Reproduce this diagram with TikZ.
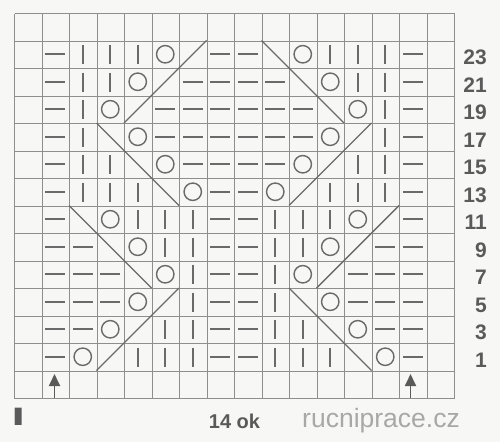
\documentclass[tikz,border=0pt]{standalone}
\usepackage{fontspec}
\setmainfont{Liberation Sans}
\usetikzlibrary{arrows.meta}
\definecolor{bg}{HTML}{F7F7F5}
\definecolor{gridc}{HTML}{8E8E8E}
\definecolor{sym}{HTML}{6A6A6A}
\definecolor{labc}{HTML}{5A5A5A}
\definecolor{webc}{HTML}{A8A8A8}
\begin{document}
\begin{tikzpicture}[x=1pt,y=-1pt,
  gridline/.style={draw=gridc,line width=1pt},
  symb/.style={draw=sym,line width=2pt},
  circ/.style={draw=sym,line width=1.4pt},
  diag/.style={draw=sym,line width=1.4pt},
  uparrow/.style={draw=labc,line width=1.8pt,-{Triangle[width=11pt,length=12pt]}},
  rowlab/.style={font=\fontsize{21}{21}\selectfont\bfseries,text=labc,anchor=base east,inner sep=0pt},
  caption/.style={font=\fontsize{20}{20}\selectfont\bfseries,text=labc,anchor=base,inner sep=0pt},
  web/.style={font=\fontsize{26.5}{26.5}\selectfont,text=webc,anchor=base,inner sep=0pt}]
\useasboundingbox (0,0) rectangle (500,442);
\fill[bg] (0,0) rectangle (500,442);
% grid
\foreach \i in {0,...,16} {\pgfmathsetmacro{\gx}{round(14+27.5*\i)+0.5}
  \draw[gridline] (\gx,13.5) -- (\gx,398.5);}
\foreach \j in {0,...,14} {\pgfmathsetmacro{\gy}{round(13+27.5*\j)+0.5}
  \draw[gridline] (14.5,\gy) -- (454.5,\gy);}
% dashes
\foreach \r/\cols in {1/{1,7,8,14},2/{1,6,7,8,9,14},3/{1,5,6,7,8,9,10,14},4/{1,5,6,7,8,9,10,14},
  5/{1,6,7,8,9,14},6/{1,7,8,14},7/{1,7,8,14},8/{1,2,7,8,13,14},9/{1,2,3,7,8,12,13,14},
  10/{1,2,3,7,8,12,13,14},11/{1,2,7,8,13,14},12/{1,7,8,14}}{
  \pgfmathsetmacro{\yy}{round(13+27.5*(\r+0.5))}
  \foreach \c in \cols {
    \pgfmathsetmacro{\xx}{round(14+27.5*(\c+0.5))}
    \draw[symb] (\xx-10,\yy) -- (\xx+10,\yy);}}
% bars
\foreach \r/\cols in {1/{2,3,4,11,12,13},2/{2,3,12,13},3/{2,13},4/{2,13},5/{2,3,12,13},6/{2,3,4,11,12,13},
  7/{4,5,6,9,10,11},8/{5,6,9,10},9/{6,9},10/{6,9},11/{5,6,9,10},12/{4,5,6,9,10,11}}{
  \pgfmathsetmacro{\yy}{round(13+27.5*(\r+0.5))}
  \foreach \c in \cols {
    \pgfmathsetmacro{\xx}{round(14+27.5*(\c+0.5))}
    \draw[symb] (\xx,\yy-9.5) -- (\xx,\yy+9.5);}}
% circles
\foreach \r/\a/\b in {1/5/10,2/4/11,3/3/12,4/4/11,5/5/10,6/6/9,7/3/12,8/4/11,9/5/10,10/4/11,11/3/12,12/2/13}{
  \draw[circ] ({14+27.5*(\a+0.5)},{13+27.5*(\r+0.5)}) circle[radius=8.7];
  \draw[circ] ({14+27.5*(\b+0.5)},{13+27.5*(\r+0.5)}) circle[radius=8.7];
}
% diagonals
\foreach \xa/\ya/\xb/\yb in {4/4/7/1,9/1/12/4,3/4/6/7,13/4/10/7,2/7/5/10,14/7/11/10,3/13/6/10,10/10/13/13}
  \draw[diag] ({14+27.5*\xa},{13+27.5*\ya}) -- ({14+27.5*\xb},{13+27.5*\yb});
% row labels
\foreach \r in {1,...,12}{
  \pgfmathtruncatemacro{\lab}{25-2*\r}
  \node[rowlab] (lab\lab) at (487,{13+27.5*(\r+0.5)+10.5}) {\lab};
}
% arrows
\coordinate (aLbase) at (54.5,398);
\coordinate (aLtip) at (54.5,374);
\coordinate (aRbase) at (410.5,398);
\coordinate (aRtip) at (410.5,374);
\draw[uparrow] (aLbase) -- (aLtip);
\draw[uparrow] (aRbase) -- (aRtip);
% bottom texts
\node[caption] (mark) at (18.3,425) {\fontsize{24}{24}\selectfont\scalebox{2}[1.05]{I}};
\node[caption] (count) at (234.5,428) {14 ok};
\node[web] (site) at (381,427.5) {rucniprace.cz};
\end{tikzpicture}
\end{document}
